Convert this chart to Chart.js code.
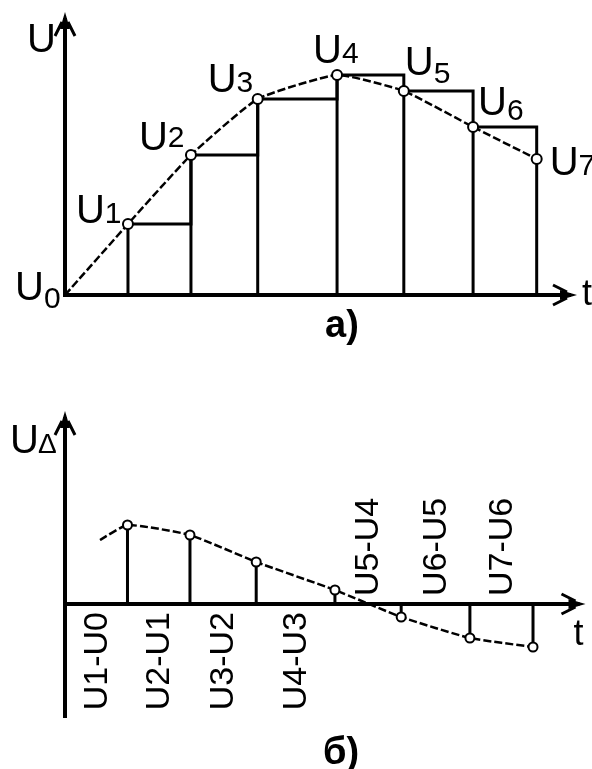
<!DOCTYPE html>
<html><head><meta charset="utf-8">
<script src="https://cdn.jsdelivr.net/npm/chart.js@4.4.1/dist/chart.umd.min.js"></script>
<style>
html,body{margin:0;padding:0;background:#fff;width:592px;height:769px;overflow:hidden}
canvas{position:absolute;left:0}
#topChart{top:0}
#bottomChart{top:360px}
</style></head><body>
<canvas id="topChart" width="592" height="350"></canvas>
<canvas id="bottomChart" width="592" height="409"></canvas>
<script>
// ---------- data (arbitrary units) ----------
const sampleTimes    = [0, 1.0, 2.0, 3.06, 4.32, 5.38, 6.48, 7.49];
const sampleVoltages = [0, 3.55, 7.0, 9.8, 11.0, 10.2, 8.4, 6.8];
const sampleIndices  = ["0", "1", "2", "3", "4", "5", "6", "7"];
const deltaValues    = [3.95, 3.45, 2.1, 0.7, -0.65, -1.7, -2.15];   // at sampleTimes[1..7]
const deltaLeadInTime  = 0.56;
const deltaLeadInValue = 3.2;
const deltaLabels    = ["U1-U0", "U2-U1", "U3-U2", "U4-U3", "U5-U4", "U6-U5", "U7-U6"];
const topXMax = 8.13, topYMax = 14.15;
const bottomXMax = 8.33, bottomYMin = -5.7, bottomYMax = 9.65;

// ---------- styling ----------
const INK = '#000';
const FONT = '"Liberation Sans", Arial, sans-serif';
const topLabelPlacement = [
  {dx: -50, dy: 5, sub: 8}, {dx: -52, dy: -1, sub: 0}, {dx: -52, dy: -5, sub: -3},
  {dx: -50, dy: -7, sub: 0}, {dx: -24, dy: -12, sub: 0}, {dx: 1, dy: -16, sub: 8},
  {dx: 5, dy: -12, sub: 5}, {dx: 13, dy: 16, sub: 0}
];

function arrow(ctx, tx, ty, dx, dy) {
  const px = -dy, py = dx;
  ctx.save();
  ctx.fillStyle = INK; ctx.strokeStyle = INK;
  ctx.beginPath();
  ctx.moveTo(tx, ty);
  ctx.lineTo(tx - 17 * dx + 5 * px, ty - 17 * dy + 5 * py);
  ctx.lineTo(tx - 17 * dx - 5 * px, ty - 17 * dy - 5 * py);
  ctx.closePath(); ctx.fill();
  ctx.lineWidth = 3; ctx.lineCap = 'butt';
  ctx.beginPath();
  ctx.moveTo(tx - 10 * dx + 3 * px, ty - 10 * dy + 3 * py);
  ctx.lineTo(tx - 24 * dx + 10 * px, ty - 24 * dy + 10 * py);
  ctx.moveTo(tx - 10 * dx - 3 * px, ty - 10 * dy - 3 * py);
  ctx.lineTo(tx - 24 * dx - 10 * px, ty - 24 * dy - 10 * py);
  ctx.stroke();
  ctx.restore();
}

function axesPlugin(bottomExtends) {
  return {
    id: 'axes',
    beforeDatasetsDraw(chart) {
      const {ctx, chartArea: a, scales: {x, y}} = chart;
      const x0 = x.getPixelForValue(0), y0 = y.getPixelForValue(0);
      ctx.save();
      ctx.strokeStyle = INK; ctx.lineWidth = 4;
      ctx.beginPath();
      ctx.moveTo(x0, bottomExtends ? a.bottom : y0 + 2); ctx.lineTo(x0, a.top + 6);
      ctx.moveTo(x0 - 2, y0); ctx.lineTo(a.right - 6, y0);
      ctx.stroke();
      ctx.restore();
      arrow(ctx, x0, a.top, 0, -1);
      arrow(ctx, a.right, y0, 1, 0);
    }
  };
}

function lineDataset(data, extra) {
  return Object.assign({
    data, borderColor: INK, backgroundColor: '#fff', borderWidth: 3,
    pointRadius: 0, fill: false, clip: false, tension: 0
  }, extra);
}

function baseOptions(xMax, yMin, yMax, pad) {
  return {
    responsive: false, animation: false, events: [],
    layout: {padding: pad},
    plugins: {legend: {display: false}, tooltip: {enabled: false}},
    scales: {
      x: {type: 'linear', display: false, min: 0, max: xMax},
      y: {type: 'linear', display: false, min: yMin, max: yMax}
    }
  };
}

// ---------- top chart (a) ----------
const topStems = [];
for (let i = 1; i < sampleTimes.length; i++) {
  topStems.push({x: sampleTimes[i], y: 0}, {x: sampleTimes[i], y: sampleVoltages[i]}, {x: sampleTimes[i], y: null});
}
const topSteps = sampleTimes.slice(1).map((t, k) => ({x: t, y: sampleVoltages[k + 1]}));
const topCurve = sampleTimes.map((t, i) => ({x: t, y: sampleVoltages[i]}));

const topLabels = {
  id: 'topLabels',
  afterDatasetsDraw(chart) {
    const {ctx, chartArea: a, scales: {x, y}} = chart;
    ctx.save();
    ctx.fillStyle = INK; ctx.textBaseline = 'alphabetic'; ctx.textAlign = 'left';
    sampleTimes.forEach((t, i) => {
      const p = topLabelPlacement[i];
      const px = x.getPixelForValue(t) + p.dx, py = y.getPixelForValue(sampleVoltages[i]) + p.dy;
      ctx.font = '40px ' + FONT;
      ctx.fillText('U', px, py);
      const w = ctx.measureText('U').width;
      ctx.font = '30px ' + FONT;
      ctx.fillText(sampleIndices[i], px + w, py + p.sub);
    });
    const x0 = x.getPixelForValue(0);
    ctx.font = '40px ' + FONT;
    ctx.fillText('U', x0 - 38, a.top + 40);
    ctx.font = '36px ' + FONT;
    ctx.fillText('t', a.right + 5, y.getPixelForValue(0) + 10);
    ctx.font = 'bold 38px ' + FONT;
    ctx.textAlign = 'center';
    ctx.fillText('а)', 342, a.bottom + 42);
    ctx.restore();
  }
};

new Chart(document.getElementById('topChart'), {
  type: 'line',
  data: {datasets: [
    lineDataset(topCurve, {
      order: 0, borderWidth: 2.5, borderDash: [8, 3], tension: 0.15,
      pointRadius: ctx => ctx.dataIndex === 0 ? 0 : 5, pointBorderWidth: 2,
      pointBackgroundColor: '#fff', pointBorderColor: INK
    }),
    lineDataset(topSteps, {order: 1, stepped: 'before'}),
    lineDataset(topStems, {order: 2, spanGaps: false})
  ]},
  options: baseOptions(topXMax, 0, topYMax, {left: 65, right: 15, top: 12, bottom: 55}),
  plugins: [axesPlugin(false), topLabels]
});

// ---------- bottom chart (б) ----------
const bottomStems = [];
deltaValues.forEach((v, k) => {
  const t = sampleTimes[k + 1];
  bottomStems.push({x: t, y: 0}, {x: t, y: v}, {x: t, y: null});
});
const bottomCurve = [{x: deltaLeadInTime, y: deltaLeadInValue}]
  .concat(deltaValues.map((v, k) => ({x: sampleTimes[k + 1], y: v})));

const bottomLabels = {
  id: 'bottomLabels',
  afterDatasetsDraw(chart) {
    const {ctx, chartArea: a, scales: {x, y}} = chart;
    const y0 = y.getPixelForValue(0), x0 = x.getPixelForValue(0);
    ctx.save();
    ctx.fillStyle = INK;
    ctx.font = '34px ' + FONT;
    ctx.textBaseline = 'middle';
    deltaLabels.forEach((lab, k) => {
      const cx = (x.getPixelForValue(sampleTimes[k]) + x.getPixelForValue(sampleTimes[k + 1])) / 2;
      const below = deltaValues[k] > 0;
      ctx.save();
      ctx.translate(cx, below ? y0 + 8 : y0 - 8);
      ctx.rotate(-Math.PI / 2);
      ctx.textAlign = below ? 'right' : 'left';
      ctx.fillText(lab, 0, 1);
      ctx.restore();
    });
    ctx.textBaseline = 'alphabetic'; ctx.textAlign = 'left';
    ctx.font = '40px ' + FONT;
    ctx.fillText('U', x0 - 55, a.top + 42);
    ctx.font = '28px ' + FONT;
    ctx.fillText('Δ', x0 - 27, a.top + 42);
    ctx.font = '36px ' + FONT;
    ctx.fillText('t', a.right - 12, y0 + 41);
    ctx.font = 'bold 38px ' + FONT;
    ctx.textAlign = 'center';
    ctx.fillText('б)', 341, 404);
    ctx.restore();
  }
};

new Chart(document.getElementById('bottomChart'), {
  type: 'line',
  data: {datasets: [
    lineDataset(bottomCurve, {
      order: 0, borderWidth: 2.5, borderDash: [8, 3], tension: 0.15,
      pointRadius: ctx => ctx.dataIndex === 0 ? 0 : 4.5, pointBorderWidth: 2,
      pointBackgroundColor: '#fff', pointBorderColor: INK
    }),
    lineDataset(bottomStems, {order: 2, spanGaps: false})
  ]},
  options: baseOptions(bottomXMax, bottomYMin, bottomYMax, {left: 65, right: 2, top: 51, bottom: 51}),
  plugins: [axesPlugin(true), bottomLabels]
});
</script>
</body></html>
